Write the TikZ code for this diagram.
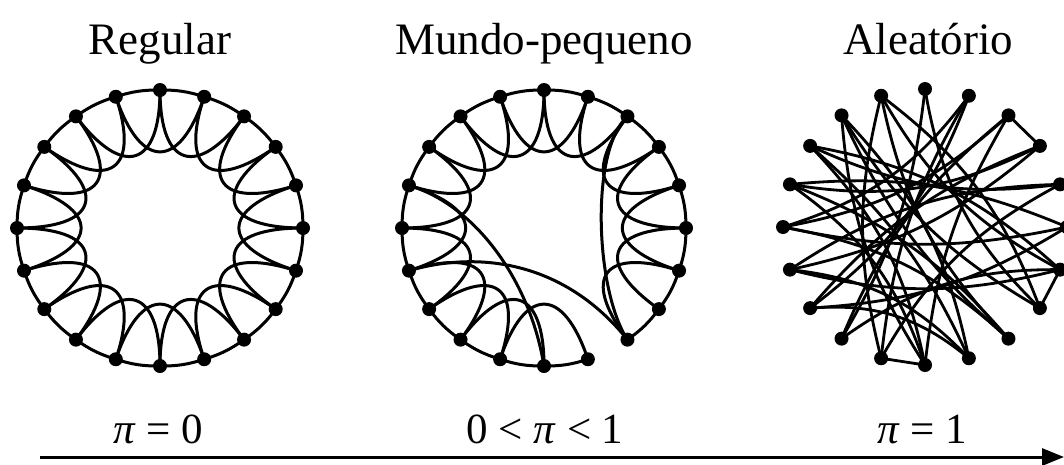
\documentclass[tikz,border=0pt]{standalone}
\usepackage{fontspec}
\setmainfont{Liberation Serif}
\usetikzlibrary{arrows.meta}
\tikzset{
  edge/.style={line width=3pt, black},
  redge/.style={line width=2.8pt, black},
  dot/.style={circle, fill=black, inner sep=0pt, minimum size=14pt},
  title/.style={anchor=base, font=\fontsize{45}{50}\selectfont},
  plabel/.style={anchor=base, font=\fontsize{43}{48}\selectfont},
}
\begin{document}
\begin{tikzpicture}[x=1pt,y=-1pt]
\useasboundingbox (0,0) rectangle (1064,464);
\begin{scope}
\clip (0,0) rectangle (1064,464);
% ---------- coordinates ----------
\foreach \g/\cx/\cy/\rx/\ry in {L/160/228/143/138, M/544/228/142/138, R/925/227/142/138}{
  \foreach \k in {0,...,19}{
    \pgfmathsetmacro\th{90-18*\k}
    \coordinate (\g\k) at ({\cx+\rx*cos(\th)},{\cy-\ry*sin(\th)});
    \coordinate (\g c\k) at ({\cx+0.44*\rx*cos(\th)},{\cy-0.44*\ry*sin(\th)});
  }
}
% ---------- Regular ----------
\foreach \k in {0,...,19}{
  \pgfmathtruncatemacro\a{mod(\k+1,20)}
  \pgfmathtruncatemacro\b{mod(\k+2,20)}
  \draw[edge] (L\k) to[bend left=9] (L\a);
  \draw[edge] (L\k) .. controls (Lc\k) and (Lc\b) .. (L\b);
}
% ---------- Small world ----------
\foreach \k in {0,...,19}{
  \pgfmathtruncatemacro\a{mod(\k+1,20)}
  \pgfmathtruncatemacro\b{mod(\k+2,20)}
  \ifnum\k=8 \else \draw[edge] (M\k) to[bend left=9] (M\a); \fi
  \ifnum\k=8 \else\ifnum\k=7 \else
    \draw[edge] (M\k) .. controls (Mc\k) and (Mc\b) .. (M\b);
  \fi\fi
}
\coordinate (m1) at (475,205); \coordinate (m2) at (530,280);
\coordinate (m3) at (480,250); \coordinate (m4) at (565,262);
\coordinate (m5) at (590,150); \coordinate (m6) at (595,290);
\draw[edge] (M16) .. controls (m1) and (m2) .. (M10);
\draw[edge] (M14) .. controls (m3) and (m4) .. (M8);
\draw[edge] (M2) .. controls (m5) and (m6) .. (M8);
% ---------- Random ----------
\foreach \a/\b/\bd in {0/12/12, 0/7/-18, 1/13/16, 1/11/-12, 1/15/18,
  2/3/0, 2/12/-14, 2/15/16, 2/10/-12, 3/16/18, 3/13/-14, 3/14/14,
  4/14/-16, 4/17/16, 4/11/-16, 5/15/12, 5/16/-14, 5/13/14,
  6/7/0, 6/17/-16, 6/14/14, 6/19/16, 6/12/-18, 7/18/14, 7/19/-16,
  8/19/16, 8/16/-14, 8/18/12, 8/15/-16, 9/18/-16, 9/14/-20, 9/17/-12, 9/13/-22,
  10/11/0, 10/17/-16, 10/18/14, 10/16/-18, 11/19/14}{
  \draw[redge] (R\a) to[bend left=\bd] (R\b);
}
% ---------- dots ----------
\foreach \g in {L,M,R}{
  \foreach \k in {0,...,19}{
    \node[dot] (\g d\k) at (\g\k) {};
  }
}
\end{scope}
% ---------- texts ----------
\node[title] (t1) at (160,54) {Regular};
\node[title] (t2) at (544,54) {Mundo-pequeno};
\node[title] (t3) at (928,54) {Aleatório};
\node[plabel] (p1) at (158,443) {\textit{π} = 0};
\node[plabel] (p2) at (545,443) {0 < \textit{π} < 1};
\node[plabel] (p3) at (922,443) {\textit{π} = 1};
% ---------- arrow ----------
\coordinate (a0) at (40,457);
\coordinate (a1) at (1064,457);
\draw[line width=3pt, -{Triangle[length=22pt,width=17pt]}] (a0) -- (a1);
\end{tikzpicture}
\end{document}
